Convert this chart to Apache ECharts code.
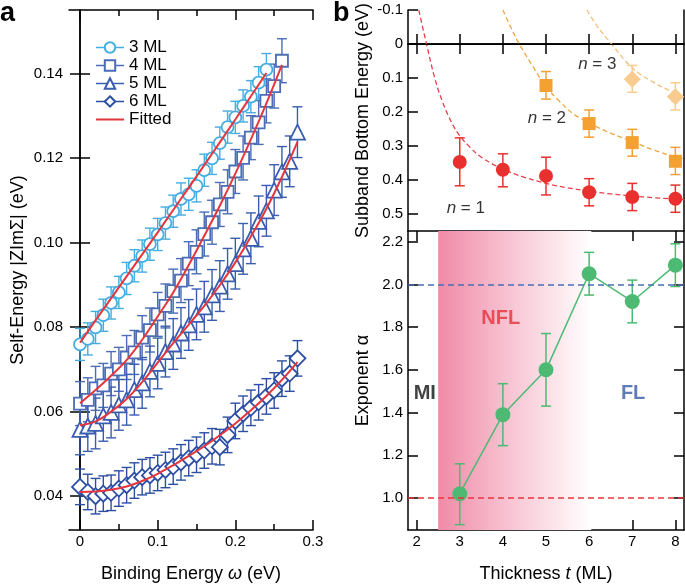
<!DOCTYPE html>
<html><head><meta charset="utf-8">
<script src="https://cdn.jsdelivr.net/npm/echarts@6/dist/echarts.min.js"></script>
<style>html,body{margin:0;padding:0;background:#fff}#c{width:685px;height:588px}</style>
</head><body><div id="c"></div>
<script>
// ---------- Panel a data ----------
const omega3 = [0,0.01,0.02,0.03,0.04,0.05,0.06,0.07,0.08,0.09,0.10,0.11,0.12,0.13,0.14,0.15,0.16,0.17,0.18,0.19,0.20,0.21,0.22,0.23,0.24];
const se3 = [0.0759,0.0772,0.0799,0.0828,0.0857,0.0882,0.0915,0.0945,0.0968,0.0996,0.1019,0.1046,0.1074,0.1103,0.1114,0.1134,0.1171,0.1199,0.1235,0.1273,0.1296,0.1323,0.1345,0.1378,0.1409];
const omega4 = [0,0.01,0.02,0.03,0.04,0.05,0.06,0.07,0.08,0.09,0.10,0.11,0.12,0.13,0.14,0.15,0.16,0.17,0.18,0.19,0.20,0.21,0.22,0.23,0.24,0.25,0.26];
const se4 = [0.0619,0.0628,0.0655,0.0662,0.0690,0.0700,0.0728,0.0740,0.0775,0.0793,0.0830,0.0850,0.0885,0.0910,0.0950,0.0978,0.1020,0.1048,0.1090,0.1120,0.1168,0.1200,0.1248,0.1284,0.1335,0.1370,0.1430];
const omega56 = [0,0.01,0.02,0.03,0.04,0.05,0.06,0.07,0.08,0.09,0.10,0.11,0.12,0.13,0.14,0.15,0.16,0.17,0.18,0.19,0.20,0.21,0.22,0.23,0.24,0.25,0.26,0.27,0.28];
const se5 = [0.0558,0.0566,0.0572,0.0590,0.0598,0.0616,0.0628,0.0652,0.0668,0.0695,0.0714,0.0742,0.0760,0.0786,0.0805,0.0830,0.0848,0.0876,0.0897,0.0926,0.0950,0.0985,0.1010,0.1050,0.1075,0.1124,0.1167,0.1192,0.1261];
const se6 = [0.0422,0.0410,0.0400,0.0406,0.0408,0.0418,0.0426,0.0437,0.0445,0.0449,0.0455,0.0462,0.0470,0.0480,0.0490,0.0498,0.0508,0.0518,0.0516,0.0545,0.0578,0.0595,0.0609,0.0622,0.0636,0.0650,0.0678,0.0690,0.0726];
const err3 = 0.0038, err4 = 0.0052, err5 = 0.0060, err6 = 0.0042;
const fitX3 = [0,0.02,0.04,0.06,0.08,0.10,0.12,0.14,0.16,0.18,0.20,0.22,0.24];
const fit3 = [0.0763,0.0816,0.0868,0.0920,0.0972,0.1024,0.1077,0.1130,0.1183,0.1237,0.1291,0.1346,0.1401];
const fitX4 = [0,0.02,0.04,0.06,0.08,0.10,0.12,0.14,0.16,0.18,0.20,0.22,0.24,0.26];
const fit4 = [0.0620,0.0651,0.0685,0.0722,0.0770,0.0825,0.0882,0.0947,0.1016,0.1087,0.1163,0.1244,0.1329,0.1420];
const fitX56 = [0,0.02,0.04,0.06,0.08,0.10,0.12,0.14,0.16,0.18,0.20,0.22,0.24,0.26,0.28];
const fit5 = [0.0568,0.0577,0.0600,0.0630,0.0670,0.0716,0.0762,0.0806,0.0850,0.0899,0.0953,0.1014,0.1080,0.1155,0.1238];
const fit6 = [0.0410,0.0411,0.0415,0.0423,0.0436,0.0453,0.0473,0.0495,0.0518,0.0544,0.0572,0.0603,0.0637,0.0675,0.0717];
const xTicksA = [0,0.1,0.2,0.3];
const xMinorA = [0.05,0.15,0.25];
const yTicksA = [0.04,0.06,0.08,0.10,0.12,0.14];

// ---------- Panel b data ----------
const thick = [3,4,5,6,7,8];
const n1E  = [0.347,0.370,0.388,0.436,0.450,0.455];
const n1Lo = [0.276,0.323,0.333,0.396,0.410,0.415];
const n1Hi = [0.417,0.420,0.444,0.476,0.490,0.495];
const n2T  = [5,6,7,8];
const n2E  = [0.122,0.234,0.290,0.345];
const n2Lo = [0.081,0.194,0.251,0.304];
const n2Hi = [0.162,0.274,0.330,0.384];
const n3T  = [7,8];
const n3E  = [0.104,0.155];
const n3Lo = [0.063,0.114];
const n3Hi = [0.142,0.194];
const n1CurveT = [2.05,2.12,2.23,2.42,2.6,2.8,3.0,3.25,3.5,4.0,4.5,5.0,5.5,6.0,6.5,7.0,7.5,8.0,8.2];
const n1CurveE = [-0.1,-0.06,0,0.1,0.17,0.228,0.27,0.305,0.333,0.368,0.392,0.41,0.423,0.433,0.441,0.447,0.452,0.456,0.458];
const n2CurveT = [4.0,4.2,4.38,4.7,5.0,5.3,5.63,6.0,6.4,7.0,7.5,8.0,8.2];
const n2CurveE = [-0.1,-0.045,0,0.067,0.125,0.167,0.205,0.232,0.257,0.287,0.312,0.332,0.338];
const n3CurveT = [5.95,6.2,6.52,7.0,7.5,8.0,8.2];
const n3CurveE = [-0.1,-0.05,0,0.07,0.113,0.145,0.156];
const alpha   = [1.02,1.39,1.60,2.05,1.92,2.09];
const alphaLo = [0.875,1.245,1.43,1.95,1.82,1.99];
const alphaHi = [1.16,1.535,1.77,2.15,2.02,2.19];
const xTicksB = [2,3,4,5,6,7,8];
const yTicksBTop = [-0.1,0,0.1,0.2,0.3,0.4,0.5];
const yTicksBBot = [1.0,1.2,1.4,1.6,1.8,2.0,2.2];
const annotTop = [{t:3.14,v:0.482,text:'{i|n} = 1'},{t:5.02,v:0.218,text:'{i|n} = 2'},{t:6.19,v:0.06,text:'{i|n} = 3'}];
const annotBot = [{t:2.19,v:1.49,text:'MI',color:'#111'},{t:3.95,v:1.84,text:'NFL',color:'#e8303a'},{t:7.02,v:1.49,text:'FL',color:'#3a5ca8'}];

// ---------- styling ----------
const FONT = 'Liberation Sans, Arial, Helvetica, sans-serif';
const C3 = '#45ade2', C4 = '#4a6db6', C5 = '#3a5db0', C6 = '#2c4ea3', CFIT = '#e4363c';
const CN1 = '#e8302f', CN2 = '#f4a132', CN3 = '#f8cb8e', CG = '#4cba73';

const zip = (a,b) => a.map((v,i)=>[v,b[i]]);
const errRows = (x,y,e) => x.map((v,i)=>[v,y[i]-e,y[i]+e]);
const errRows2 = (x,lo,hi) => x.map((v,i)=>[v,lo[i],hi[i]]);

function errBar(capW, lw){
  return function(params, api){
    const x = api.value(0), lo = api.value(1), hi = api.value(2);
    const p1 = api.coord([x,lo]), p2 = api.coord([x,hi]);
    const st = {stroke: api.visual('color'), lineWidth: lw};
    return {type:'group', children:[
      {type:'line', shape:{x1:p1[0],y1:p1[1],x2:p2[0],y2:p2[1]}, style:st},
      {type:'line', shape:{x1:p1[0]-capW/2,y1:p1[1],x2:p1[0]+capW/2,y2:p1[1]}, style:st},
      {type:'line', shape:{x1:p2[0]-capW/2,y1:p2[1],x2:p2[0]+capW/2,y2:p2[1]}, style:st}
    ]};
  };
}

const axLine = {show:true, lineStyle:{color:'#000', width:1.5}};
const lblStyle = {color:'#000', fontSize:15, fontFamily:FONT};
const nameStyle = {color:'#000', fontSize:18, fontFamily:FONT, rich:{i:{fontStyle:'italic', fontSize:18, fontFamily:FONT, color:'#000'}}};

function xAx(grid, pos, min, max, ticks, len, labels, extra){
  return Object.assign({
    type:'value', gridIndex:grid, position:pos, min:min, max:max,
    axisLine: axLine, splitLine:{show:false},
    axisTick:{show:true, inside:true, length:len, customValues:ticks, lineStyle:{color:'#000', width:1.5}},
    axisLabel: labels ? Object.assign({show:true, customValues:labels, margin:4}, lblStyle) : {show:false}
  }, extra||{});
}
function yAx(grid, pos, min, max, ticks, len, labels, extra){
  return Object.assign({
    type:'value', gridIndex:grid, position:pos, min:min, max:max,
    axisLine: axLine, splitLine:{show:false},
    axisTick: ticks ? {show:true, inside:true, length:len, customValues:ticks, lineStyle:{color:'#000', width:1.5}} : {show:false},
    axisLabel: labels ? Object.assign({show:true, customValues:labels, margin:5}, lblStyle) : {show:false}
  }, extra||{});
}

const chart = echarts.init(document.getElementById('c'));
const option = {
  animation:false,
  textStyle:{fontFamily:FONT},
  grid:[
    {left:69, top:10, width:244, height:525},
    {left:408, top:10, width:276, height:221},
    {left:408, top:231, width:276, height:305}
  ],
  xAxis:[
    xAx(0,'bottom',-0.0142,0.3,xTicksA,10,xTicksA,{
      axisLabel:Object.assign({show:true, customValues:xTicksA, margin:4, formatter:v=>v===0?'0':String(+v.toFixed(1))}, lblStyle),
      name:'Binding Energy {i|ω} (eV)', nameLocation:'middle', nameGap:35, nameTextStyle:nameStyle}),
    xAx(0,'bottom',-0.0142,0.3,xMinorA,6,null,{axisLine:{show:false}}),
    xAx(0,'top',-0.0142,0.3,xTicksA,10,null),
    xAx(0,'top',-0.0142,0.3,xMinorA,6,null,{axisLine:{show:false}}),
    xAx(1,'bottom',1.8,8.2,xTicksB,10,null),
    xAx(1,'top',1.8,8.2,xTicksB,10,null),
    xAx(2,'bottom',1.8,8.2,xTicksB,10,xTicksB,{
      name:'Thickness {i|t} (ML)', nameLocation:'middle', nameGap:35, nameTextStyle:nameStyle}),
    xAx(2,'top',1.8,8.2,xTicksB,10,null)
  ],
  yAxis:[
    yAx(0,'left',0.032,0.155,yTicksA,10,yTicksA,{
      axisLabel:Object.assign({show:true, customValues:yTicksA, margin:6, formatter:v=>v.toFixed(2)}, lblStyle),
      name:'Self-Energy |ZImΣ| (eV)', nameLocation:'middle', nameGap:42, nameTextStyle:nameStyle}),
    yAx(0,'right',0.032,0.155,yTicksA,10,null),
    yAx(1,'left',-0.1,0.55,yTicksBTop,10,yTicksBTop,{inverse:true,
      axisLabel:Object.assign({show:true, customValues:yTicksBTop, margin:5, formatter:v=>Math.abs(v)<1e-9?'0':String(+v.toFixed(1))}, lblStyle),
      name:'Subband Bottom Energy (eV)', nameLocation:'middle', nameGap:36, nameTextStyle:nameStyle}),
    yAx(1,'right',-0.1,0.55,null,0,null,{inverse:true}),
    yAx(2,'left',0.85,2.25,yTicksBBot,10,yTicksBBot,{
      axisLabel:Object.assign({show:true, customValues:yTicksBBot, margin:5, formatter:v=>v.toFixed(1)}, lblStyle),
      name:'Exponent α', nameLocation:'middle', nameGap:36, nameTextStyle:nameStyle}),
    yAx(2,'right',0.85,2.25,yTicksBBot,10,null)
  ],
  legend:{
    orient:'vertical', left:90, top:34, itemWidth:28, itemHeight:13, itemGap:1, selectedMode:false,
    textStyle:{fontSize:17, color:'#000', fontFamily:FONT, lineHeight:17},
    data:[
      {name:'3 ML', lineStyle:{opacity:1, width:1.5, color:C3}},
      {name:'4 ML', lineStyle:{opacity:1, width:1.5, color:C4}},
      {name:'5 ML', lineStyle:{opacity:1, width:1.5, color:C5}},
      {name:'6 ML', lineStyle:{opacity:1, width:1.5, color:C6}},
      {name:'Fitted', itemStyle:{opacity:0}, lineStyle:{opacity:1, width:2, color:CFIT}}
    ]
  },
  graphic:[
    {type:'text', left:0, top:0, style:{text:'a', font:'bold 27px '+FONT, fill:'#000'}},
    {type:'text', left:333, top:0, style:{text:'b', font:'bold 27px '+FONT, fill:'#000'}}
  ],
  series:[]
};

const S = option.series;
// panel a error bars
[[omega3,se3,err3,C3],[omega4,se4,err4,C4],[omega56,se5,err5,C5],[omega56,se6,err6,C6]].forEach((d,k)=>{
  S.push({type:'custom', name:'err'+k, xAxisIndex:0, yAxisIndex:0, z:2, clip:true,
    itemStyle:{color:d[3]}, renderItem:errBar(10,1.4), data:errRows(d[0],d[1],d[2]), encode:{x:0,y:[1,2]}});
});
// panel a markers
[['3 ML',omega3,se3,C3,'circle',12],['4 ML',omega4,se4,C4,'rect',12],['5 ML',omega56,se5,C5,'triangle',15],['6 ML',omega56,se6,C6,'diamond',16]].forEach(d=>{
  S.push({type:'line', name:d[0], xAxisIndex:0, yAxisIndex:0, z:3, data:zip(d[1],d[2]),
    symbol:d[4], symbolSize:d[5], showAllSymbol:true,
    itemStyle:{color:'#fff', borderColor:d[3], borderWidth:1.8},
    lineStyle:{color:d[3], width:1.5, opacity:0}});
});
// panel a fits
[[fitX3,fit3],[fitX4,fit4],[fitX56,fit5],[fitX56,fit6]].forEach(d=>{
  S.push({type:'line', name:'Fitted', xAxisIndex:0, yAxisIndex:0, z:4, data:zip(d[0],d[1]),
    smooth:0.4, showSymbol:false, symbol:'none', itemStyle:{color:CFIT}, lineStyle:{color:CFIT, width:2}});
});

// panel b top: curves
[[n1CurveT,n1CurveE,'#e6404a'],[n2CurveT,n2CurveE,'#f0a540'],[n3CurveT,n3CurveE,'#f3bf7a']].forEach((d,k)=>{
  S.push({type:'line', xAxisIndex:4, yAxisIndex:2, z:2, data:zip(d[0],d[1]), smooth:0.4, symbol:'none',
    lineStyle:{color:d[2], width:1.3, type:[5,3]},
    markLine: k===0 ? {silent:true, symbol:'none', label:{show:false}, lineStyle:{color:'#000', width:1.2, type:'solid'}, data:[{yAxis:0}]} : undefined});
});
// panel b top: error bars & markers
[[thick,n1Lo,n1Hi,CN1],[n2T,n2Lo,n2Hi,CN2],[n3T,n3Lo,n3Hi,CN3]].forEach(d=>{
  S.push({type:'custom', xAxisIndex:4, yAxisIndex:2, z:3, clip:true, itemStyle:{color:d[3]},
    renderItem:errBar(10,1.5), data:errRows2(d[0],d[1],d[2]), encode:{x:0,y:[1,2]}});
});
[[thick,n1E,CN1,'circle',14],[n2T,n2E,CN2,'rect',13],[n3T,n3E,CN3,'diamond',17]].forEach(d=>{
  S.push({type:'scatter', xAxisIndex:4, yAxisIndex:2, z:4, data:zip(d[0],d[1]), symbol:d[3], symbolSize:d[4],
    itemStyle:{color:d[2], opacity:1}});
});
S.push({type:'scatter', xAxisIndex:4, yAxisIndex:2, z:5, symbolSize:0, silent:true,
  data:annotTop.map(a=>({value:[a.t,a.v], label:{show:true, position:'inside', formatter:a.text, fontSize:17, color:'#000', fontFamily:FONT,
    rich:{i:{fontStyle:'italic', fontSize:17, color:'#000', fontFamily:FONT}}}}))});

// panel b bottom
S.push({type:'line', xAxisIndex:6, yAxisIndex:4, z:1, data:[], symbol:'none',
  markArea:{silent:true, itemStyle:{color:new echarts.graphic.LinearGradient(0,0,1,0,[
    {offset:0,color:'#f08aa7'},{offset:0.45,color:'#f7c2d1'},{offset:1,color:'#ffffff'}])},
    data:[[{xAxis:2.5},{xAxis:6.05}]]},
  markLine:{silent:true, symbol:'none', label:{show:false}, data:[
    {yAxis:2.0, lineStyle:{color:'#4a6db5', width:1.5, type:[6,4]}},
    {yAxis:1.0, lineStyle:{color:'#e8363a', width:1.5, type:[6,4]}}]}
});
S.push({type:'custom', xAxisIndex:6, yAxisIndex:4, z:3, clip:true, itemStyle:{color:CG},
  renderItem:errBar(10,1.5), data:errRows2(thick,alphaLo,alphaHi), encode:{x:0,y:[1,2]}});
S.push({type:'line', xAxisIndex:6, yAxisIndex:4, z:4, data:zip(thick,alpha), symbol:'circle', symbolSize:15,
  itemStyle:{color:CG}, lineStyle:{color:CG, width:1.5}});
S.push({type:'scatter', xAxisIndex:6, yAxisIndex:4, z:5, symbolSize:0, silent:true,
  data:annotBot.map(a=>({value:[a.t,a.v], label:{show:true, position:'inside', formatter:a.text, fontSize:20, fontWeight:'bold', color:a.color, fontFamily:FONT}}))});

chart.setOption(option);
</script>
</body></html>
